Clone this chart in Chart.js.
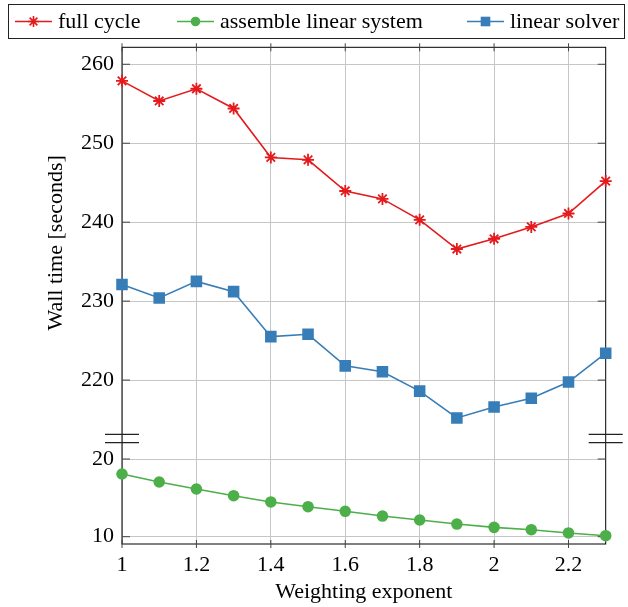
<!DOCTYPE html>
<html>
<head>
<meta charset="utf-8">
<script src="https://cdn.jsdelivr.net/npm/chart.js@4.4.0/dist/chart.umd.min.js"></script>
<style>
  html, body { margin: 0; padding: 0; background: #fff; }
  #wrap { width: 628px; height: 607px; position: relative; }
</style>
</head>
<body>
<div id="wrap"><canvas id="timings"></canvas></div>
<script>
// weighting exponent sweep, wall time per stage
var exponents = [1, 1.1, 1.2, 1.3, 1.4, 1.5, 1.6, 1.7, 1.8, 1.9, 2, 2.1, 2.2, 2.3];
var fullCycle = [257.9, 255.35, 256.9, 254.4, 248.2, 247.9, 243.95, 242.95, 240.3, 236.6, 237.9, 239.4, 241.1, 245.2];
var assembleSystem = [18.07, 17.04, 16.14, 15.28, 14.47, 13.86, 13.27, 12.66, 12.15, 11.63, 11.2, 10.9, 10.48, 10.13];
var linearSolver = [232.1, 230.4, 232.5, 231.2, 225.5, 225.8, 221.8, 221.05, 218.6, 215.2, 216.6, 217.7, 219.75, 223.4];

var xTicks = [1, 1.2, 1.4, 1.6, 1.8, 2, 2.2];
var upperTicks = [220, 230, 240, 250, 260];
var lowerTicks = [10, 20];

var seriesNames = ['full cycle', 'assemble linear system', 'linear solver'];
var seriesColors = ['#e41a1c', '#4daf4a', '#377eb8'];
var seriesMarkers = ['star', 'circle', 'rect'];

var FONT = '"Liberation Serif", "DejaVu Serif", serif';
var GRID = '#c6c6c6';

function toPoints(ys) {
    return exponents.map(function(x, i) { return { x: x, y: ys[i] }; });
}

function fixedTicks(list) {
    return function(scale) {
        scale.ticks = list.map(function(v) { return { value: v }; });
    };
}

// draws the same marker shapes chart.js uses, for the legend
function drawMarker(ctx, style, x, y, color) {
    ctx.save();
    ctx.fillStyle = color;
    ctx.strokeStyle = color;
    ctx.lineWidth = 1.6;
    ctx.beginPath();
    if (style === 'circle') {
        ctx.arc(x, y, 4.8, 0, Math.PI * 2);
        ctx.fill();
    } else if (style === 'rect') {
        ctx.rect(x - 4.8, y - 4.8, 9.6, 9.6);
        ctx.fill();
    } else {
        var r = 5.5;
        for (var k = 0; k < 4; k++) {
            var a = k * Math.PI / 4;
            ctx.moveTo(x - Math.cos(a) * r, y - Math.sin(a) * r);
            ctx.lineTo(x + Math.cos(a) * r, y + Math.sin(a) * r);
        }
        ctx.stroke();
    }
    ctx.restore();
}

var framePlugin = {
    id: 'frame',
    beforeDatasetsDraw: function(chart) {
        var ctx = chart.ctx;
        var area = chart.chartArea;
        var xs = chart.scales.x;
        var yUp = chart.scales.y;
        var yLow = chart.scales.yLow;

        ctx.save();
        ctx.strokeStyle = '#000';
        ctx.lineWidth = 1;
        ctx.strokeRect(area.left, area.top, area.right - area.left, area.bottom - area.top);

        // tick marks
        ctx.strokeStyle = '#444';
        ctx.beginPath();
        xTicks.forEach(function(v) {
            var px = xs.getPixelForValue(v);
            ctx.moveTo(px, area.top - 4); ctx.lineTo(px, area.top + 4);
            ctx.moveTo(px, area.bottom - 4); ctx.lineTo(px, area.bottom + 4);
        });
        upperTicks.forEach(function(v) {
            var py = yUp.getPixelForValue(v);
            ctx.moveTo(area.left, py); ctx.lineTo(area.left + 8, py);
            ctx.moveTo(area.right, py); ctx.lineTo(area.right - 8, py);
        });
        lowerTicks.forEach(function(v) {
            var py = yLow.getPixelForValue(v);
            ctx.moveTo(area.left, py); ctx.lineTo(area.left + 8, py);
            ctx.moveTo(area.right, py); ctx.lineTo(area.right - 8, py);
        });
        ctx.stroke();

        // axis break between the two ranges
        var cut = yUp.bottom;
        ctx.strokeStyle = '#222';
        ctx.lineWidth = 1.2;
        ctx.beginPath();
        [area.left, area.right].forEach(function(ax) {
            ctx.moveTo(ax - 17, cut - 4.2); ctx.lineTo(ax + 17, cut - 4.2);
            ctx.moveTo(ax - 17, cut + 4.2); ctx.lineTo(ax + 17, cut + 4.2);
        });
        ctx.stroke();
        ctx.restore();
    },
    afterDraw: function(chart) {
        var ctx = chart.ctx;
        ctx.save();
        // legend box across the top
        ctx.strokeStyle = '#222';
        ctx.lineWidth = 1;
        ctx.strokeRect(8.5, 4.5, 616, 34);
        var rowY = 21.5;
        var entryX = [15, 177, 467];
        ctx.font = '22px ' + FONT;
        ctx.textBaseline = 'middle';
        ctx.textAlign = 'left';
        for (var i = 0; i < seriesNames.length; i++) {
            var x0 = entryX[i];
            ctx.strokeStyle = seriesColors[i];
            ctx.lineWidth = 1.6;
            ctx.beginPath();
            ctx.moveTo(x0, rowY); ctx.lineTo(x0 + 37, rowY);
            ctx.stroke();
            drawMarker(ctx, seriesMarkers[i], x0 + 18.5, rowY, seriesColors[i]);
            ctx.fillStyle = '#000';
            ctx.fillText(seriesNames[i], x0 + 43, rowY + 1);
        }
        ctx.restore();
    }
};

function makeDataset(i, values, axis, radius) {
    return {
        label: seriesNames[i],
        data: toPoints(values),
        yAxisID: axis,
        borderColor: seriesColors[i],
        backgroundColor: seriesColors[i],
        pointStyle: seriesMarkers[i],
        pointRadius: radius,
        pointBorderWidth: 1.8,
        borderWidth: 1.6,
        tension: 0,
        clip: false
    };
}

var tickFont = { family: FONT, size: 22 };

new Chart(document.getElementById('timings'), {
    type: 'line',
    data: {
        datasets: [
            makeDataset(0, fullCycle, 'y', 6),
            makeDataset(1, assembleSystem, 'yLow', 4.9),
            makeDataset(2, linearSolver, 'y', 6.9)
        ]
    },
    plugins: [framePlugin],
    options: {
        responsive: true,
        maintainAspectRatio: false,
        animation: false,
        layout: { padding: { top: 47.3, right: 22.3, left: 0, bottom: 0 } },
        plugins: {
            legend: { display: false },
            tooltip: { enabled: false }
        },
        scales: {
            x: {
                type: 'linear',
                min: 1,
                max: 2.3,
                afterBuildTicks: fixedTicks(xTicks),
                afterFit: function(scale) { scale.height = 63; },
                grid: { color: GRID, drawTicks: false },
                border: { display: false },
                ticks: {
                    font: tickFont, color: '#000', padding: 8,
                    callback: function(v) { return String(v); }
                },
                title: {
                    display: true, text: 'Weighting exponent',
                    font: tickFont, color: '#000', padding: { top: 0, bottom: 2 }
                }
            },
            // left boxes in one stack are placed last-defined first, so the lower range comes first here
            yLow: {
                type: 'linear',
                position: 'left',
                stack: 'wall',
                stackWeight: 105.5,
                min: 9.06,
                max: 22.64,
                afterBuildTicks: fixedTicks(lowerTicks),
                afterFit: function(scale) { scale.width = 122; },
                grid: { color: GRID, drawTicks: false },
                border: { display: false },
                ticks: { font: tickFont, color: '#000', padding: 8 }
            },
            y: {
                type: 'linear',
                position: 'left',
                stack: 'wall',
                stackWeight: 391.2,
                min: 212.6,
                max: 262.15,
                afterBuildTicks: fixedTicks(upperTicks),
                afterFit: function(scale) { scale.width = 122; },
                grid: { color: GRID, drawTicks: false },
                border: { display: false },
                ticks: { font: tickFont, color: '#000', padding: 8 },
                title: {
                    display: true, text: 'Wall time [seconds]',
                    font: tickFont, color: '#000', padding: { top: 43, bottom: 0 }
                }
            }
        }
    }
});
</script>
</body>
</html>
